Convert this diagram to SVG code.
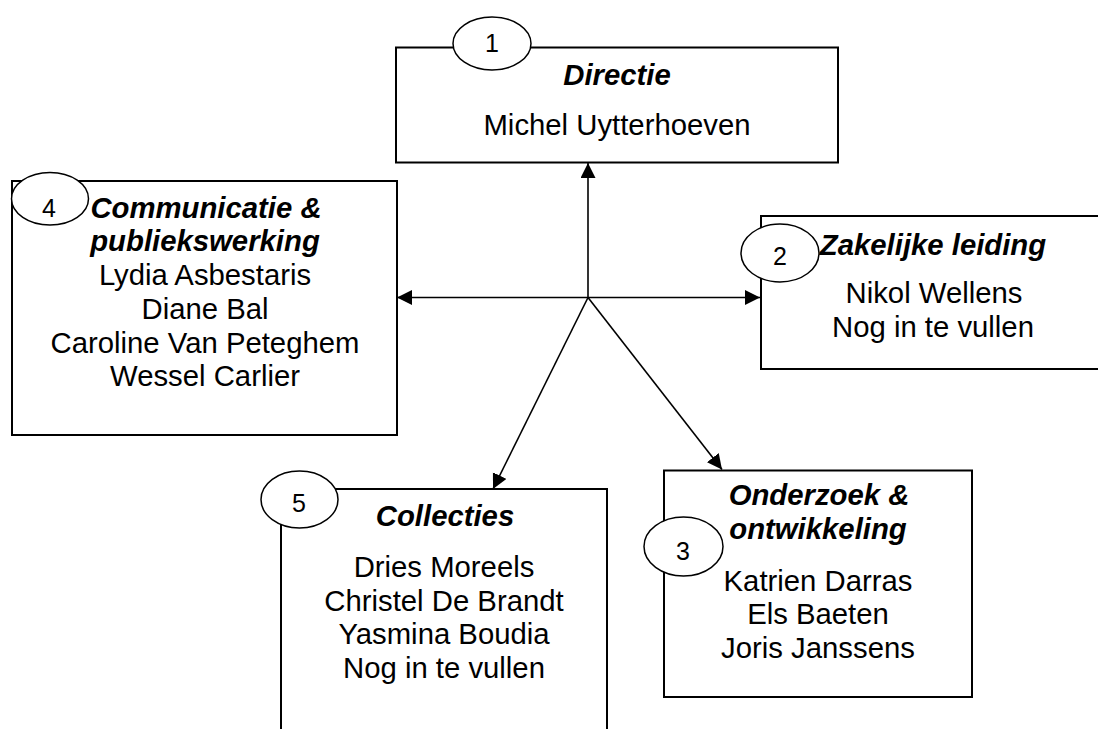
<svg xmlns="http://www.w3.org/2000/svg" width="1098" height="729" viewBox="0 0 1098 729">
<style>
.box{fill:#fff;stroke:#000;stroke-width:2}
.oval{fill:#fff;stroke:#000;stroke-width:1.5}
.t{font-family:"Liberation Sans",Arial,sans-serif;font-size:29.3px;fill:#000;text-anchor:middle}
.h{font-weight:bold;font-style:italic}
.n{font-family:"Liberation Sans",Arial,sans-serif;font-size:25px;fill:#000;text-anchor:middle}
.c{stroke:#000;stroke-width:1.6;fill:none;marker-end:url(#arr)}
</style>
<defs>
<marker id="arr" markerUnits="userSpaceOnUse" markerWidth="16" markerHeight="16" refX="15" refY="7.5" orient="auto">
<path d="M0,0 L15,7.5 L0,15 Z" fill="#000"/>
</marker>
</defs>
<rect width="1098" height="729" fill="#fff"/>
<g id="connectors">
<line class="c" x1="588" y1="297.5" x2="588" y2="163"/>
<line class="c" x1="588" y1="297.5" x2="397" y2="297.5"/>
<line class="c" x1="588" y1="297.5" x2="760" y2="297.5"/>
<line class="c" x1="588" y1="297.5" x2="493" y2="489"/>
<line class="c" x1="588" y1="297.5" x2="722" y2="469.5"/>
</g>
<g id="node1">
<rect class="box" x="396" y="47.5" width="442" height="115"/>
<ellipse class="oval" cx="492" cy="43.5" rx="39" ry="26.5"/>
<text class="n" x="492" y="52">1</text>
<text class="t h" x="617" y="85">Directie</text>
<text class="t" x="617" y="135">Michel Uytterhoeven</text>
</g>
<g id="node4">
<rect class="box" x="12" y="181" width="385" height="254"/>
<ellipse class="oval" cx="50" cy="198.7" rx="38.5" ry="26.3"/>
<text class="n" x="49" y="216.5">4</text>
<text class="t h" x="206" y="217.7">Communicatie &amp;</text>
<text class="t h" x="205" y="251.4">publiekswerking</text>
<text class="t" x="205" y="285">Lydia Asbestaris</text>
<text class="t" x="205" y="318.8">Diane Bal</text>
<text class="t" x="205" y="352.5">Caroline Van Peteghem</text>
<text class="t" x="205" y="386.2">Wessel Carlier</text>
</g>
<g id="node2">
<rect class="box" x="761" y="216" width="344" height="153"/>
<ellipse class="oval" cx="780" cy="253" rx="39" ry="29"/>
<text class="n" x="780" y="265">2</text>
<text class="t h" x="933" y="255">Zakelijke leiding</text>
<text class="t" x="934" y="303">Nikol Wellens</text>
<text class="t" x="933" y="337">Nog in te vullen</text>
</g>
<g id="node5">
<rect class="box" x="281" y="489" width="326" height="260"/>
<ellipse class="oval" cx="299.5" cy="499.5" rx="38.5" ry="28.5"/>
<text class="n" x="299" y="512">5</text>
<text class="t h" x="445" y="526">Collecties</text>
<text class="t" x="444" y="577">Dries Moreels</text>
<text class="t" x="444" y="610.7">Christel De Brandt</text>
<text class="t" x="444" y="644.4">Yasmina Boudia</text>
<text class="t" x="444" y="678">Nog in te vullen</text>
</g>
<g id="node3">
<rect class="box" x="664" y="470.5" width="308" height="226.5"/>
<ellipse class="oval" cx="683.5" cy="546.5" rx="39.5" ry="29.5"/>
<text class="n" x="683" y="560">3</text>
<text class="t h" x="819" y="505">Onderzoek &amp;</text>
<text class="t h" x="818" y="539">ontwikkeling</text>
<text class="t" x="818" y="590.7">Katrien Darras</text>
<text class="t" x="818" y="624.4">Els Baeten</text>
<text class="t" x="818" y="658">Joris Janssens</text>
</g>
</svg>
